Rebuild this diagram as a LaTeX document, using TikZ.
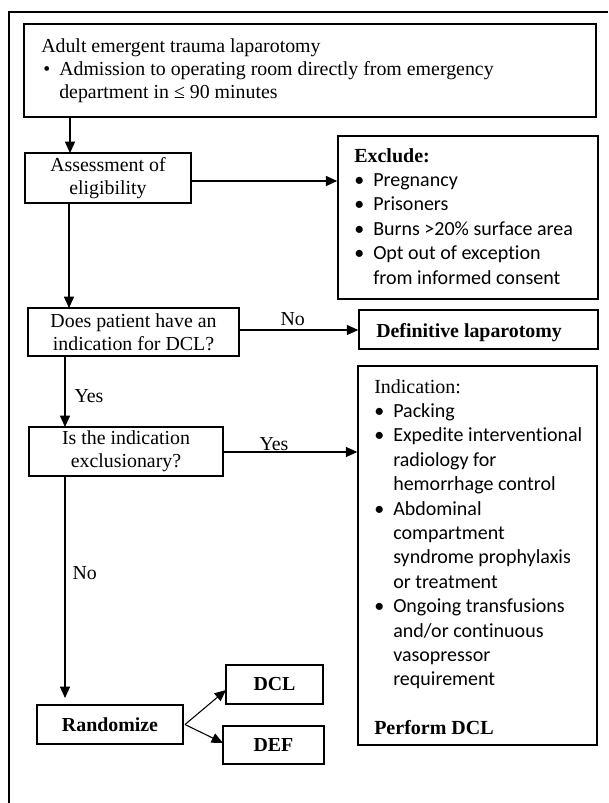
\documentclass[tikz,border=0pt]{standalone}
\usepackage{fontspec}
\setmainfont{Liberation Serif}
\setsansfont{Carlito}[Ligatures=NoCommon]
\usetikzlibrary{arrows.meta,fit,calc}
\newcommand{\serifsz}{\fontsize{14.9}{16.9}\selectfont}
\newcommand{\listsz}{\fontsize{15}{18.3}\selectfont}
\newcommand{\topsz}{\fontsize{14.9}{17.25}\selectfont}
\newcommand{\mybul}{\makebox[14.25pt][l]{\textbullet}}
\newcommand{\myind}{\hspace*{14.25pt}}
\begin{document}
\begin{tikzpicture}[x=0.75pt,y=-0.75pt,
  frame/.style={draw, line width=1.1pt, inner sep=0pt},
  box/.style={draw, line width=1.1pt, inner sep=0pt, outer sep=0pt, align=center, font=\serifsz},
  txt/.style={inner sep=0pt, anchor=base west},
  arr/.style={line width=0.8pt, -{Triangle[length=8.5pt,width=7.5pt]}},
  lab/.style={inner sep=0pt, font=\serifsz}]
\useasboundingbox (0,0) rectangle (608,803);
% outer frame (cropped at right and bottom)
\draw[line width=1.5pt] (9,803) -- (9,12) -- (608,12);

% boxes
\node[frame, fit={(24,24) (596,117)}] (top) {};
\node[txt] (toptext) at (41,52) {\parbox[t]{420pt}{\raggedright\topsz
  Adult emergent trauma laparotomy\\
  \hspace*{1.5pt}\makebox[12pt][l]{\textbullet}Admission to operating room directly from emergency\\
  \hspace*{13.5pt}department in ≤ 90 minutes}};

\node[box, minimum width=124.5pt, minimum height=37.5pt] (assess) at (108,178) {Assessment of\\eligibility};

\node[frame, fit={(338,136) (598,299)}] (exclude) {};
\node[txt] (excltext) at (354,162) {\parbox[t]{185pt}{\raggedright\listsz
  \textbf{Exclude:}\\
  \sffamily
  \mybul Pregnancy\\
  \mybul Prisoners\\
  \mybul Burns >20\% surface area\\
  \mybul Opt out of exception\\
  \myind from informed consent}};

\node[box, minimum width=158.25pt, minimum height=36pt] (does) at (133.5,332) {Does patient have an\\indication for DCL?};

\node[frame, fit={(359,310) (598,349)}] (definitive) {};
\node[txt, font=\serifsz\bfseries] (deftext) at (376,337) {Definitive laparotomy};

\node[frame, fit={(358,366) (597,745)}] (indication) {};
\node[txt] (indtext) at (374,393) {\parbox[t]{170pt}{\raggedright\listsz
  Indication:\\
  \sffamily
  \mybul Packing\\
  \mybul Expedite interventional\\
  \myind radiology for\\
  \myind hemorrhage control\\
  \mybul Abdominal\\
  \myind compartment\\
  \myind syndrome prophylaxis\\
  \myind or treatment\\
  \mybul Ongoing transfusions\\
  \myind and/or continuous\\
  \myind vasopressor\\
  \myind requirement\\[18.3pt]
  \rmfamily\bfseries Perform DCL}};

\node[box, minimum width=145.5pt, minimum height=36.75pt] (is) at (126,451.5) {Is the indication\\exclusionary?};

\node[box, minimum width=109.5pt, minimum height=29.25pt, font=\serifsz\bfseries] (rand) at (110,724.5) {Randomize};
\node[box, minimum width=72.75pt, minimum height=29.25pt, font=\serifsz\bfseries] (dcl) at (274.5,684.5) {DCL};
\node[box, minimum width=75.75pt, minimum height=28.5pt, font=\serifsz\bfseries] (def) at (273.5,745) {DEF};

% connectors
\draw[arr] (top.south -| 70,0) -- (assess.north -| 70,0);
\draw[arr] (assess.east |- 0,181) -- (exclude.west |- 0,181);
\draw[arr] (assess.south -| 69,0) -- (does.north -| 69,0);
\draw[arr] (does.east |- 0,330) -- node[lab, pos=0.45, anchor=base, yshift=3.75pt] (nolab1) {No} (definitive.west |- 0,330);
\draw[arr] (does.south -| 65,0) -- node[lab, pos=0.65, anchor=base west, xshift=6.75pt] (yeslab1) {Yes} (is.north -| 65,0);
\draw[arr] (is.east |- 0,452) -- node[lab, pos=0.38, anchor=base, yshift=1.5pt] (yeslab2) {Yes} (indication.west |- 0,452);
\draw[arr, shorten >=5.25pt] (is.south -| 65,0) -- node[lab, pos=0.45, anchor=base west, xshift=5.25pt] (nolab2) {No} (rand.north -| 65,0);
\draw[arr] ($(rand.east)+(2,0)$) -- (dcl.west |- 0,690);
\draw[arr] ($(rand.east)+(2,0)$) -- (def.west |- 0,743);
\end{tikzpicture}
\end{document}
